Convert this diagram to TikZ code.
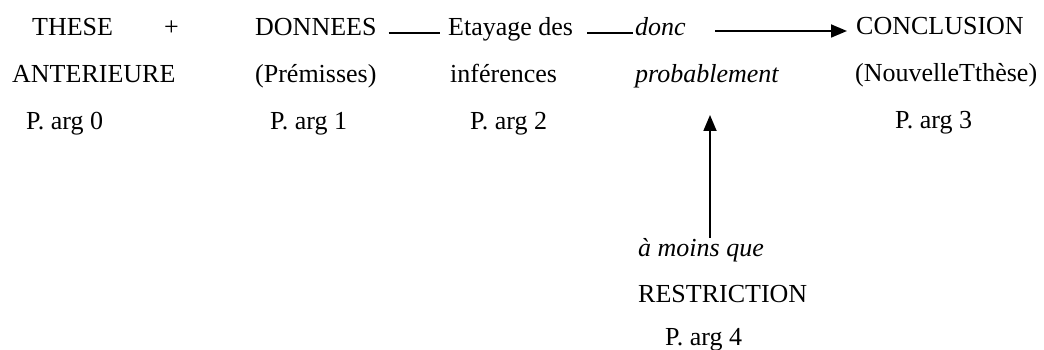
\documentclass[tikz,border=0pt]{standalone}
\usepackage{fontspec}
\setmainfont{Liberation Serif}
\usetikzlibrary{arrows.meta}
\tikzset{
  txt/.style={anchor=base west, inner sep=0pt, font=\fontsize{26}{30}\selectfont},
  ln/.style={line width=1.8pt},
  arr/.style={line width=1.8pt, -{Triangle[length=16pt,width=13pt]}}
}
\begin{document}
\begin{tikzpicture}[x=1pt,y=-1pt]
\useasboundingbox (0,0) rectangle (1044,350);
% column 0
\node[txt] (these) at (32,36) {THESE};
\node[txt] (plus) at (164,36) {+};
\node[txt] (ant) at (12,83) {ANTERIEURE};
\node[txt] (p0) at (26,130) {P. arg 0};
% column 1
\node[txt] (don) at (255,36) {DONNEES};
\node[txt] (prem) at (255,83) {(Prémisses)};
\node[txt] (p1) at (270,130) {P. arg 1};
% column 2
\node[txt] (eta) at (448,36) {Etayage des};
\node[txt] (inf) at (450,83) {inférences};
\node[txt] (p2) at (470,130) {P. arg 2};
% column 3
\node[txt,font=\fontsize{26}{30}\selectfont\itshape] (donc) at (635,36) {donc};
\node[txt,font=\fontsize{26}{30}\selectfont\itshape] (prob) at (635,83) {probablement};
% column 4
\node[txt] (concl) at (856,35) {CONCLUSION};
\node[txt] (nouv) at (855,82) {(NouvelleTthèse)};
\node[txt] (p3) at (895,129) {P. arg 3};
% restriction
\node[txt,font=\fontsize{26}{30}\selectfont\itshape] (moins) at (638,256) {à moins que};
\node[txt] (restr) at (638,302) {RESTRICTION};
\node[txt] (p4) at (665,345) {P. arg 4};
% connectors
\coordinate (vtop) at (710,115);
\coordinate (hstart) at (715,31);
\draw[ln] ([xshift=12pt,yshift=3pt]don.base east) -- ([xshift=-8pt,yshift=3pt]eta.base west);
\draw[ln] ([xshift=14pt,yshift=3pt]eta.base east) -- ([xshift=-2pt,yshift=3pt]donc.base west);
\draw[arr] (hstart) -- ([xshift=-9pt]concl.base west |- hstart);
\draw[arr] (moins.north -| vtop) -- (vtop);
\end{tikzpicture}
\end{document}
